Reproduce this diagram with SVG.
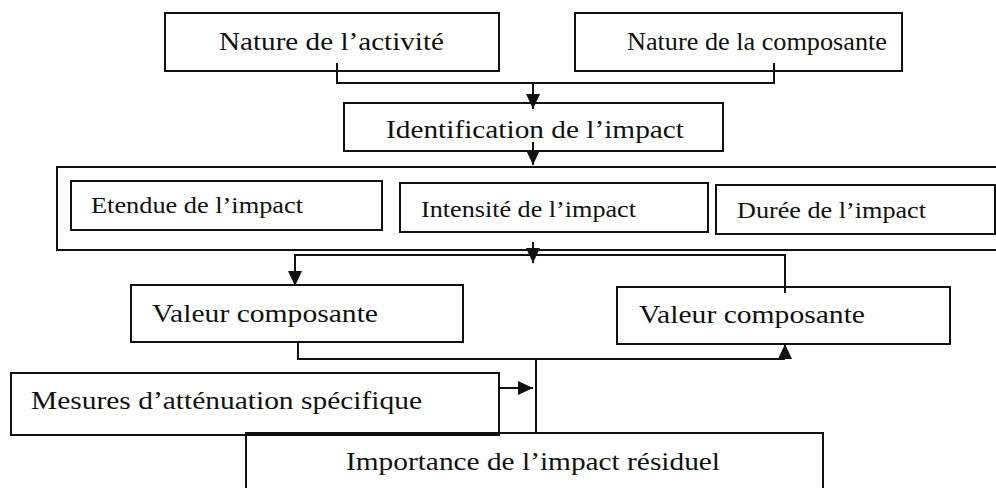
<svg xmlns="http://www.w3.org/2000/svg" width="996" height="488" viewBox="0 0 996 488">
<style>
.box{fill:none;stroke:#111;stroke-width:2}
.con{fill:none;stroke:#111;stroke-width:2}
.t{font-family:"Liberation Serif","Times New Roman",serif;fill:#111}
.l{font-size:26px}
.m{font-size:23.5px}
</style>
<defs>
<marker id="ah" markerUnits="userSpaceOnUse" markerWidth="16" markerHeight="16" refX="15" refY="7" orient="auto">
<polygon points="0,0 15,7 0,14" fill="#111"/>
</marker>
</defs>
<rect width="996" height="488" fill="#fff"/>
<g id="n-activite"><rect class="box" x="165" y="13" width="334" height="58"/><text class="t l" x="219" y="50" textLength="225" lengthAdjust="spacingAndGlyphs">Nature de l’activité</text></g>
<g id="n-composante"><rect class="box" x="575" y="13" width="327" height="58"/><text class="t l" x="627" y="50" textLength="260" lengthAdjust="spacingAndGlyphs">Nature de la composante</text></g>
<g id="n-identification"><rect class="box" x="344" y="103" width="379" height="48"/><text class="t l" x="386" y="138" textLength="298" lengthAdjust="spacingAndGlyphs">Identification de l’impact</text></g>
<g id="n-criteres"><rect class="box" x="57" y="167" width="945" height="83"/></g>
<g id="n-etendue"><rect class="box" x="71" y="181" width="311" height="49"/><text class="t m" x="91" y="213" textLength="212" lengthAdjust="spacingAndGlyphs">Etendue de l’impact</text></g>
<g id="n-intensite"><rect class="box" x="400" y="183" width="308" height="49"/><text class="t m" x="421" y="217" textLength="215" lengthAdjust="spacingAndGlyphs">Intensité de l’impact</text></g>
<g id="n-duree"><rect class="box" x="716" y="185" width="279" height="49"/><text class="t m" x="737" y="218" textLength="189" lengthAdjust="spacingAndGlyphs">Durée de l’impact</text></g>
<g id="n-valeur1"><rect class="box" x="131" y="285" width="332" height="57"/><text class="t l" x="152" y="322" textLength="226" lengthAdjust="spacingAndGlyphs">Valeur composante</text></g>
<g id="n-valeur2"><rect class="box" x="617" y="287" width="333" height="57"/><text class="t l" x="639" y="323" textLength="226" lengthAdjust="spacingAndGlyphs">Valeur composante</text></g>
<g id="n-mesures"><rect class="box" x="11" y="373" width="488" height="62"/><text class="t l" x="31" y="409" textLength="391" lengthAdjust="spacingAndGlyphs">Mesures d’atténuation spécifique</text></g>
<g id="n-importance"><rect class="box" x="246" y="433" width="577" height="70"/><text class="t l" x="346" y="470" textLength="374" lengthAdjust="spacingAndGlyphs">Importance de l’impact résiduel</text></g>
<g id="connectors">
<path class="con" d="M337,63 V83 H774 V63"/>
<path class="con" d="M533,83 V109" marker-end="url(#ah)"/>
<path class="con" d="M533,142 V165" marker-end="url(#ah)"/>
<path class="con" d="M533,242 V263" marker-end="url(#ah)"/>
<path class="con" d="M785,293 V255 H295 V286" marker-end="url(#ah)"/>
<path class="con" d="M298,342 V359 H785"/>
<path class="con" d="M785,358 V344" marker-end="url(#ah)"/>
<path class="con" d="M536,359 V433"/>
<path class="con" d="M499,388 H533" marker-end="url(#ah)"/>
</g>
</svg>
